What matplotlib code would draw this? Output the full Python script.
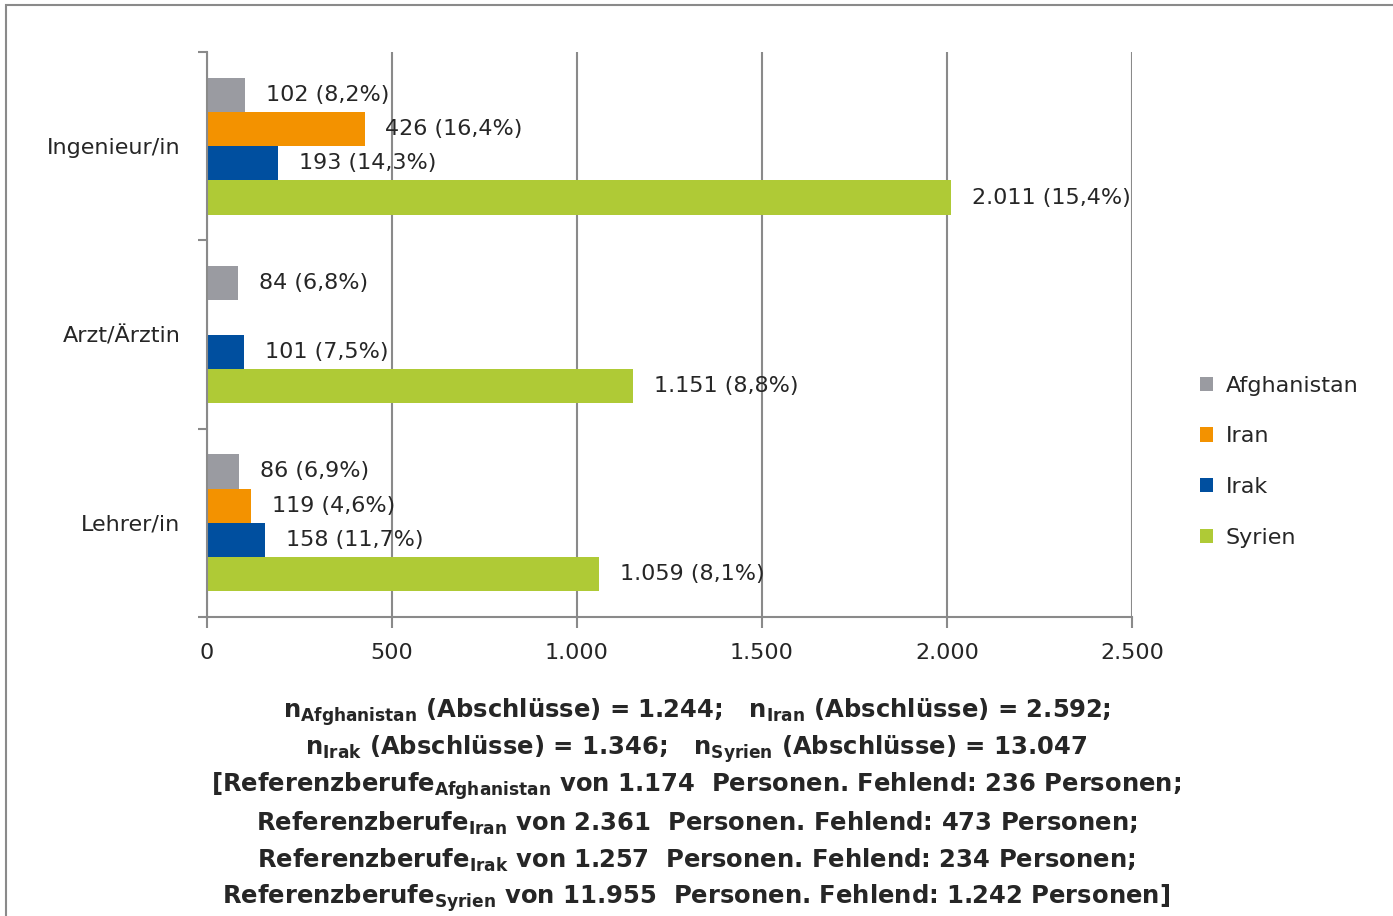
import numpy as np
import matplotlib
matplotlib.use("Agg")
import matplotlib.pyplot as plt
from matplotlib.patches import Rectangle

# Data
berufe = ["Ingenieur/in", "Arzt/Ärztin", "Lehrer/in"]
laender = ["Afghanistan", "Iran", "Irak", "Syrien"]
farben = ["#9a9ba1", "#f39200", "#004f9f", "#afca36"]

afghanistan = [102, 84, 86]
afghanistan_pct = ["8,2%", "6,8%", "6,9%"]
iran = [426, None, 119]
iran_pct = ["16,4%", None, "4,6%"]
irak = [193, 101, 158]
irak_pct = ["14,3%", "7,5%", "11,7%"]
syrien = [2011, 1151, 1059]
syrien_pct = ["15,4%", "8,8%", "8,1%"]

xticks = [0, 500, 1000, 1500, 2000, 2500]
xticklabels = ["0", "500", "1.000", "1.500", "2.000", "2.500"]

fussnote = [
    r"$\mathregular{n_{Afghanistan}}$ (Abschlüsse) = 1.244;   $\mathregular{n_{Iran}}$ (Abschlüsse) = 2.592;",
    r"$\mathregular{n_{Irak}}$ (Abschlüsse) = 1.346;   $\mathregular{n_{Syrien}}$ (Abschlüsse) = 13.047",
    r"[Referenzberufe$\mathregular{_{Afghanistan}}$ von 1.174  Personen. Fehlend: 236 Personen;",
    r"Referenzberufe$\mathregular{_{Iran}}$ von 2.361  Personen. Fehlend: 473 Personen;",
    r"Referenzberufe$\mathregular{_{Irak}}$ von 1.257  Personen. Fehlend: 234 Personen;",
    r"Referenzberufe$\mathregular{_{Syrien}}$ von 11.955  Personen. Fehlend: 1.242 Personen]",
]


def tausender(v):
    return f"{v:,}".replace(",", ".")


serien = [
    (afghanistan, afghanistan_pct),
    (iran, iran_pct),
    (irak, irak_pct),
    (syrien, syrien_pct),
]

plt.rcParams["font.family"] = ["DejaVu Sans"]
fs = 16
grau = "#8a8a8a"

fig = plt.figure(figsize=(13.93, 9.16), dpi=100)
ax = fig.add_axes([0.1486, 0.3264, 0.664, 0.6168])

# frame around the chart (only top and left visible in the crop)
fig.patches.append(Rectangle((0.0045, -0.1), 1.1, 1.0945, transform=fig.transFigure,
                             fill=False, edgecolor=grau, linewidth=1.5))

h = 0.182
pos = np.arange(len(berufe))
for i, ((werte, pct), name, farbe) in enumerate(zip(serien, laender, farben)):
    off = (i - 1.5) * h
    for j, (v, p) in enumerate(zip(werte, pct)):
        if v is None:
            continue
        ax.barh(pos[j] + off, v, height=h, color=farbe, label=name if j == 0 else None)
        ax.annotate(f"{tausender(v)} ({p})", (v, pos[j] + off), xytext=(15, 0),
                    textcoords="offset points", va="center", ha="left",
                    fontsize=fs, color="#262626")

ax.set_xlim(0, 2500)
ax.set_ylim(2.5, -0.5)
ax.set_xticks(xticks)
ax.set_xticklabels(xticklabels, fontsize=fs, color="#262626")
ax.set_yticks([-0.5, 0.5, 1.5, 2.5])
ax.set_yticklabels([])
ax.set_yticks(pos, minor=True)
ax.set_yticklabels(berufe, minor=True, fontsize=fs, color="#262626")
ax.tick_params(axis="y", which="minor", length=0, pad=19)
ax.tick_params(axis="y", which="major", length=6.5, color=grau, width=1.5)
ax.tick_params(axis="x", length=8, color=grau, width=1.5, pad=11)

ax.xaxis.grid(True, color=grau, linewidth=1.5)
ax.set_axisbelow(True)
for s in ["top", "right"]:
    ax.spines[s].set_visible(False)
for s in ["left", "bottom"]:
    ax.spines[s].set_color(grau)
    ax.spines[s].set_linewidth(1.5)

handles, labels = ax.get_legend_handles_labels()
leg = fig.legend(handles, labels, loc="center left", bbox_to_anchor=(0.855, 0.496),
                 frameon=False, fontsize=fs, handlelength=0.6, handleheight=0.6,
                 handletextpad=0.55, labelspacing=1.38, borderaxespad=0)
for t in leg.get_texts():
    t.set_color("#262626")

for k, zeile in enumerate(fussnote):
    fig.text(0.5, 1 - (712 + k * 37.2) / 916, zeile, ha="center", va="center",
             fontsize=17.5, fontweight="bold", color="#262626",
             family=["Liberation Sans Narrow", "DejaVu Sans"])

fig.savefig("out.png", dpi=100)
